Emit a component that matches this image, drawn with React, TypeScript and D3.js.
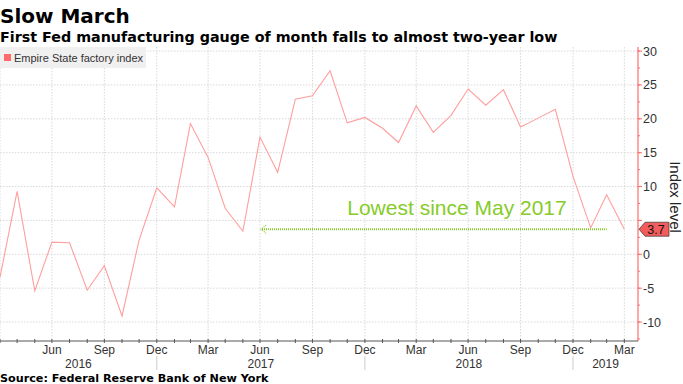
import React from "react";
import * as d3 from "d3";

const months: string[] = [
  "2016-03","2016-04","2016-05","2016-06","2016-07","2016-08","2016-09","2016-10","2016-11","2016-12",
  "2017-01","2017-02","2017-03","2017-04","2017-05","2017-06","2017-07","2017-08","2017-09","2017-10","2017-11","2017-12",
  "2018-01","2018-02","2018-03","2018-04","2018-05","2018-06","2018-07","2018-08","2018-09","2018-10","2018-11","2018-12",
  "2019-01","2019-02","2019-03",
];
const values: number[] = [
  -3.4, 9.3, -5.4, 1.8, 1.7, -5.3, -1.7, -9.1, 2.1, 9.8,
  7.0, 19.3, 14.3, 6.8, 3.4, 17.3, 12.1, 22.9, 23.4, 27.1, 19.4, 20.2,
  18.6, 16.5, 21.9, 18.0, 20.5, 24.4, 22.0, 24.3, 18.8, 20.1, 21.4, 11.5,
  3.9, 8.8, 3.7,
];
const yTicks: number[] = [-10, -5, 0, 5, 10, 15, 20, 25, 30];
const quarterLabels: string[] = ["Mar", "Jun", "Sep", "Dec"];
const years: number[] = [2016, 2017, 2018, 2019];
const lastValueLabel = "3.7";
const lowestRef = 3.7;
const annotationText = "Lowest since May 2017";
const annotationFrom = "2017-06";
const annotationTo = "2019-02";

const monthEnd = (s: string) => {
  const [y, m] = s.split("-").map(Number);
  return new Date(y, m, 0);
};

export default function App() {
  const W = 683, H = 384;
  const left = 0, right = 638, top = 47, bottom = 341;
  const x = d3.scaleTime()
    .domain([monthEnd("2016-03"), new Date(2019, 3, 24)])
    .range([left, right]);
  const y = d3.scaleLinear().domain([-12.8, 30.6]).range([bottom, top]);

  const pts = months.map((m, i) => ({ d: monthEnd(m), v: values[i] }));
  const line = d3.line<{ d: Date; v: number }>().x(p => x(p.d)).y(p => y(p.v));

  const allMonths = d3.timeMonth.range(new Date(2016, 2, 1), new Date(2019, 4, 1)).map(d => new Date(d.getFullYear(), d.getMonth() + 1, 0)).filter(d => x(d) >= left - 0.5 && x(d) <= right);
  const quarters = allMonths.filter(d => d.getMonth() % 3 === 2);
  const minorY = d3.range(-12.5, 31, 2.5);

  const font = "'Liberation Sans', Arial, sans-serif";
  const titleFont = "'DejaVu Sans', sans-serif";
  const green = "#86CB2A";
  const red = "#FF6B6B";

  const ann1 = x(monthEnd(annotationFrom));
  const ann2 = x(monthEnd(annotationTo));
  const ay = y(lowestRef);
  const lastY = y(values[values.length - 1]);

  const yearSpans = years.map(yr => {
    const a = Math.max(left, x(new Date(yr - 1, 11, 31)));
    const b = Math.min(right, x(new Date(yr, 11, 31)));
    return { yr, c: (a + b) / 2, sep: x(new Date(yr, 11, 31)) };
  });

  return (
    <div style={{ position: "fixed", left: 0, top: 0 }}>
      <svg width={W} height={H} style={{ display: "block", background: "#fff" }}>
        <text x={0} y={23} fontFamily={titleFont} fontWeight="bold" fontSize={20} fill="#000">Slow March</text>
        <text x={0} y={42} fontFamily={titleFont} fontWeight="bold" fontSize={14.3} fill="#000">First Fed manufacturing gauge of month falls to almost two-year low</text>

        {/* grid */}
        {yTicks.map(t => (
          <line key={"hg" + t} x1={left} x2={right} y1={y(t)} y2={y(t)} stroke="#d8d8d8" strokeDasharray="1.5,1.5" />
        ))}
        {quarters.map((d, i) => (
          <line key={"vg" + i} x1={x(d)} x2={x(d)} y1={top} y2={bottom} stroke="#d8d8d8" strokeDasharray="1.5,1.5" />
        ))}

        {/* legend */}
        <rect x={0} y={47} width={146} height={21} fill="#f0f0f0" />
        <rect x={4} y={54} width={7} height={7} fill={red} />
        <text x={14} y={61.5} fontFamily={font} fontSize={11} fill="#333">Empire State factory index</text>

        {/* series */}
        <path d={line(pts) || ""} fill="none" stroke="#FF9E9E" strokeWidth={1.1} />

        {/* annotation */}
        <line x1={ann1 + 2} x2={ann2} y1={ay} y2={ay} stroke={green} strokeWidth={2} strokeDasharray="1,1" />
        <path d={`M${ann1 + 6},${ay - 4} L${ann1 + 1},${ay} L${ann1 + 6},${ay + 4}`} fill="none" stroke={green} strokeWidth={1.2} strokeDasharray="1,1" />
        <text x={457} y={ay - 14} textAnchor="middle" fontFamily={font} fontSize={21} fill={green}>{annotationText}</text>

        {/* right axis */}
        <line x1={right} x2={right} y1={top} y2={bottom} stroke={red} strokeWidth={1.2} />
        {minorY.map(t => (
          <line key={"mt" + t} x1={right} x2={right + 2} y1={y(t)} y2={y(t)} stroke={red} />
        ))}
        {yTicks.map(t => (
          <g key={"yt" + t}>
            <line x1={right} x2={right + 4} y1={y(t)} y2={y(t)} stroke={red} />
            {Math.abs(y(t) - lastY) > 12 && (
              <text x={right + 5} y={y(t) + 4.5} fontFamily={font} fontSize={12.5} fill="#333">{t}</text>
            )}
          </g>
        ))}
        <text transform={`translate(670,${(top + bottom) / 2 + 3}) rotate(90)`} textAnchor="middle" fontFamily={font} fontSize={15} fill="#222">Index level</text>

        {/* last value tag */}
        <path d={`M${right + 1},${lastY} L${right + 7},${lastY - 7} L${right + 31},${lastY - 7} L${right + 31},${lastY + 7} L${right + 7},${lastY + 7} Z`} fill="#F25C5C" stroke="#333" strokeWidth={0.7} />
        <text x={right + 18} y={lastY + 4.5} textAnchor="middle" fontFamily={font} fontSize={12.5} fill="#111">{lastValueLabel}</text>

        {/* x axis */}
        <line x1={left} x2={right} y1={bottom} y2={bottom} stroke="#555" />
        {allMonths.map((d, i) => (
          <line key={"xt" + i} x1={x(d)} x2={x(d)} y1={bottom - 2} y2={bottom + 2} stroke="#555" />
        ))}
        {quarters.filter(d => x(d) > 20).map((d, i) => (
          <text key={"ql" + i} x={x(d)} y={353.5} textAnchor="middle" fontFamily={font} fontSize={12} fill="#333">{quarterLabels[Math.floor(d.getMonth() / 3)]}</text>
        ))}
        {yearSpans.map(s => (
          <g key={"yr" + s.yr}>
            <text x={s.c} y={367.5} textAnchor="middle" fontFamily={font} fontSize={12} fill="#333">{s.yr}</text>
            {s.sep < right && <line x1={s.sep} x2={s.sep} y1={356} y2={370} stroke="#ccc" />}
          </g>
        ))}

        <text x={0} y={382} fontFamily={titleFont} fontWeight="bold" fontSize={11.2} fill="#000">Source: Federal Reserve Bank of New York</text>
      </svg>
    </div>
  );
}
